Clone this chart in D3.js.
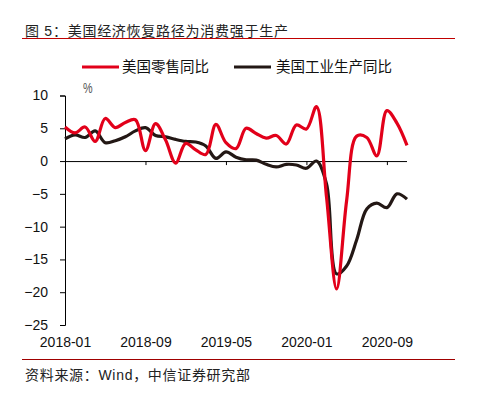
<!DOCTYPE html>
<html>
<head>
<meta charset="utf-8">
<script src="https://cdn.jsdelivr.net/npm/d3@7"></script>
<style>
  body { margin: 0; background: #fff; }
  text { font-family: "Liberation Sans", Arial, "Noto Sans CJK SC", sans-serif; }
</style>
</head>
<body>
<svg id="chart" width="483" height="399"></svg>
<script>
// monthly data, 2018-01 .. 2020-11
const months = [
    "2018-01","2018-02","2018-03","2018-04","2018-05","2018-06","2018-07","2018-08","2018-09","2018-10","2018-11","2018-12",
    "2019-01","2019-02","2019-03","2019-04","2019-05","2019-06","2019-07","2019-08","2019-09","2019-10","2019-11","2019-12",
    "2020-01","2020-02","2020-03","2020-04","2020-05","2020-06","2020-07","2020-08","2020-09","2020-10","2020-11"
];
const retail = [
    5.2, 4.3, 5.2, 3.0, 6.5, 5.1, 5.9, 6.3, 1.6, 5.7, 3.2, -0.3,
    2.7, 1.7, 1.0, 5.6, 2.8, 1.9, 5.0, 4.2, 3.5, 3.9, 2.6, 5.5,
    4.9, 8.3, -5.5, -19.5, -6.0, 3.8, 3.6, 0.8, 7.7, 5.8, 2.4
];
const industry = [
    3.4, 4.0, 3.6, 4.6, 2.8, 3.1, 3.7, 4.6, 5.1, 3.9, 3.7, 3.3,
    3.0, 2.9, 2.3, 0.4, 1.4, 0.6, 0.2, 0.15, -0.5, -0.9, -0.5, -0.6,
    -1.1, 0.0, -3.5, -17.2, -16.0, -12.0, -7.3, -6.4, -7.1, -5.0, -5.8
];
const yTicks = [10, 5, 0, -5, -10, -15, -20, -25];
const xTicks = ["2018-01", "2018-09", "2019-05", "2020-01", "2020-09"];
const seriesNames = ["美国零售同比", "美国工业生产同比"];
const colors = ["#e2001a", "#231815"];

const svg = d3.select("#chart");

// title + rules
svg.append("text")
    .attr("x", 25).attr("y", 36)
    .attr("font-size", 14).attr("fill", "#222")
    .attr("textLength", 263).attr("lengthAdjust", "spacing")
    .text("图 5：美国经济恢复路径为消费强于生产");
svg.append("line")
    .attr("x1", 22).attr("x2", 455).attr("y1", 38.5).attr("y2", 38.5)
    .attr("stroke", "#c00000").attr("stroke-width", 1);
svg.append("line")
    .attr("x1", 22).attr("x2", 455).attr("y1", 359.5).attr("y2", 359.5)
    .attr("stroke", "#a00000").attr("stroke-width", 1);
svg.append("text")
    .attr("x", 25).attr("y", 380)
    .attr("font-size", 14).attr("fill", "#222")
    .attr("textLength", 225).attr("lengthAdjust", "spacing")
    .text("资料来源：Wind，中信证券研究部");

const x = d3.scalePoint().domain(months).range([65, 407]);
const y = d3.scaleLinear().domain([-25, 10]).range([325, 95.5]);

// y axis
let yAxis = svg.append("g")
    .attr("transform", "translate(65,0)")
    .call(d3.axisLeft(y).tickValues(yTicks).tickSize(5).tickPadding(12));
yAxis.selectAll("text").attr("font-size", 14).attr("fill", "#111");
yAxis.selectAll("path, line").attr("stroke", "#000");

// x axis on the zero line, labels at the bottom
let xAxis = svg.append("g")
    .attr("transform", "translate(0," + y(0) + ")")
    .call(d3.axisBottom(x).tickValues(xTicks.slice(1)).tickSize(4).tickSizeOuter(0).tickFormat(""));
xAxis.select(".domain").attr("d", "M" + x(months[0]) + ",0.5H" + x(months[months.length - 1]));
xAxis.selectAll("path, line").attr("stroke", "#000");

let xLabels = svg.append("g")
    .attr("transform", "translate(0,325)")
    .call(d3.axisBottom(x).tickValues(xTicks).tickSize(0).tickPadding(12));
xLabels.select(".domain").remove();
xLabels.selectAll("text").attr("font-size", 14).attr("fill", "#111");

// unit label, narrow
svg.append("text")
    .attr("transform", "translate(83,93) scale(0.72,1)")
    .attr("font-size", 15).attr("fill", "#555")
    .text("%");

// lines
const line = d3.line()
    .x((d, i) => x(months[i]))
    .y(d => y(d))
    .curve(d3.curveCatmullRom.alpha(0.5));

[industry, retail].forEach((s, k) => {
    svg.append("path")
        .datum(s)
        .attr("fill", "none")
        .attr("stroke", k === 0 ? colors[1] : colors[0])
        .attr("stroke-width", 3.2)
        .attr("stroke-linejoin", "round")
        .attr("d", line);
});

// legend
const legendX = [82, 234];
const legendTextX = [122, 276];
seriesNames.forEach((name, i) => {
    svg.append("line")
        .attr("x1", legendX[i]).attr("x2", legendX[i] + 37)
        .attr("y1", 67).attr("y2", 67)
        .attr("stroke", colors[i]).attr("stroke-width", 3);
    svg.append("text")
        .attr("x", legendTextX[i]).attr("y", 72)
        .attr("font-size", 14.5).attr("fill", "#111")
        .text(name);
});
</script>
</body>
</html>
